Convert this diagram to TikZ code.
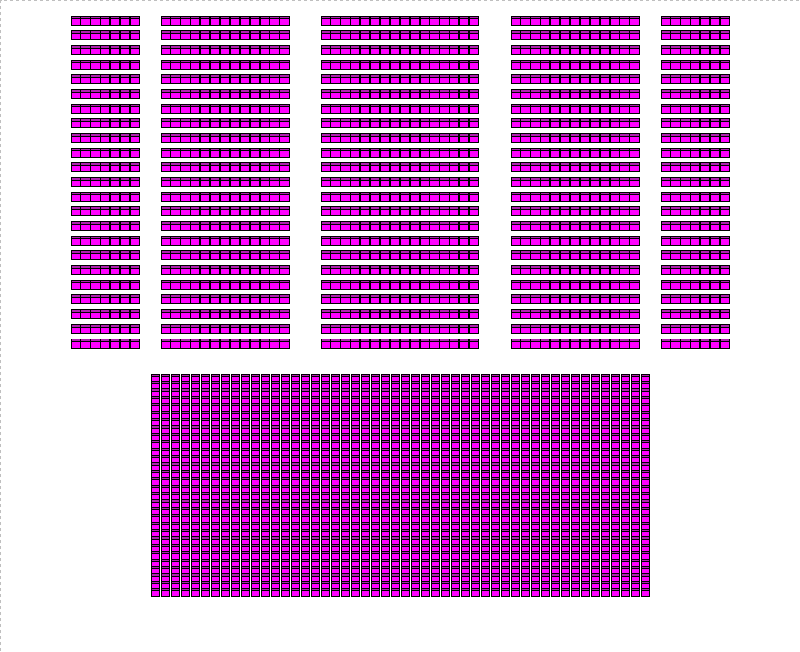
\documentclass[tikz,border=0pt]{standalone}
\definecolor{seatfill}{HTML}{FF00FF}
\definecolor{seatband}{HTML}{B020B0}
\tikzset{
  seat/.style={fill=seatfill, draw=black, line width=0.9pt},
  seatline/.style={draw=black, line width=0.7pt},
  frameline/.style={draw=gray!50, dashed, line width=0.8pt}
}
\newcommand\myseat[2]{%
  \filldraw[seat] (#1,#2) rectangle ++(9.2,9);
  \fill[seatband] (#1+0.5,#2+0.5) rectangle ++(8.2,2);
  \draw[seatline] (#1,#2+2.6) -- ++(9.2,0);
}
\newcommand\mylowseat[2]{%
  \filldraw[seat] (#1,#2) rectangle ++(8,7.4);
  \fill[seatband] (#1+0.5,#2+0.5) rectangle ++(7,1.5);
  \draw[seatline] (#1,#2+2.1) -- ++(8,0);
}
\begin{document}
\begin{tikzpicture}[x=1pt,y=-1pt]
\useasboundingbox (0,0) rectangle (800,651);
\fill[white] (0,0) rectangle (800,651);
\draw[frameline] (0.5,651) -- (0.5,0.5) -- (800,0.5);
% upper blocks: start x / last seat index
\foreach \r in {0,...,22}{
  \pgfmathsetmacro\yy{16+\r*14.68}
  \foreach \bx/\n in {71/6,161/12,321/15,511/12,661/6}{
    \foreach \c in {0,...,\n}{
      \pgfmathsetmacro\xx{\bx+\c*9.9}
      \myseat{\xx}{\yy}
    }
  }
}
% lower block
\foreach \r in {0,...,29}{
  \pgfmathsetmacro\yy{374+\r*7.4}
  \foreach \c in {0,...,49}{
    \pgfmathsetmacro\xx{151+\c*10}
    \mylowseat{\xx}{\yy}
  }
}
\end{tikzpicture}
\end{document}
